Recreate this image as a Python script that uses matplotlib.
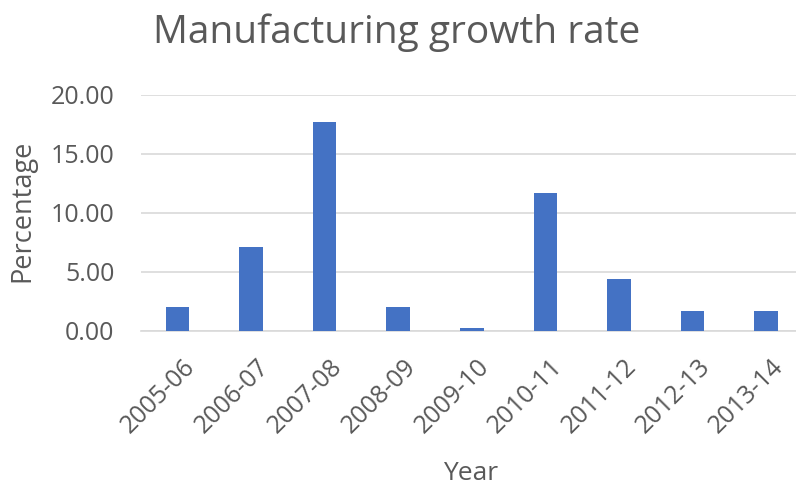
import matplotlib.pyplot as plt
import matplotlib.transforms as mtransforms
import numpy as np

plt.rcParams['font.family'] = ['Open Sans', 'DejaVu Sans']

years = ['2005-06', '2006-07', '2007-08', '2008-09', '2009-10',
         '2010-11', '2011-12', '2012-13', '2013-14']
growth = [2.0, 7.1, 17.7, 2.0, 0.2, 11.7, 4.4, 1.7, 1.7]

grey = '#595959'

fig = plt.figure(figsize=(7.96, 4.86), dpi=100)
ax = fig.add_axes([0.177, 0.3196, 0.823, 0.4855])

x = np.arange(len(years))
ax.bar(x, growth, width=0.32, color='#4472C4', zorder=3)

ax.set_ylim(0, 20)
ax.set_yticks([0, 5, 10, 15, 20])
ax.set_yticklabels(['%.2f' % v for v in [0, 5, 10, 15, 20]])
ax.set_xlim(-0.5, 8.41)
ax.set_xticks(x)
ax.set_xticklabels(years, rotation=45, ha='right', rotation_mode='anchor')

ax.grid(axis='y', color='#D9D9D9', linewidth=1.2, zorder=0)
for s in ['top', 'right', 'left']:
    ax.spines[s].set_visible(False)
ax.spines['bottom'].set_color('#D9D9D9')
ax.spines['bottom'].set_linewidth(1.2)
ax.tick_params(length=0, colors=grey)
ax.tick_params(axis='x', pad=17, labelsize=18)
ax.tick_params(axis='y', pad=19, labelsize=18)

# nudge rotated labels a bit to the right like the original
shift = mtransforms.ScaledTranslation(5 / 100, 0, fig.dpi_scale_trans)
for lbl in ax.get_xticklabels():
    lbl.set_transform(lbl.get_transform() + shift)

fig.text(22.5 / 796, 1 - 211 / 486, 'Percentage', rotation=90, ha='center',
         va='center', fontsize=19.5, color=grey)
fig.text(471 / 796, 1 - 480 / 486, 'Year', ha='center', va='baseline',
         fontsize=19, color=grey)
fig.text(397 / 796, 1 - 43 / 486, 'Manufacturing growth rate', ha='center',
         va='baseline', fontsize=28, color=grey)

fig.savefig('out.png', dpi=100)
